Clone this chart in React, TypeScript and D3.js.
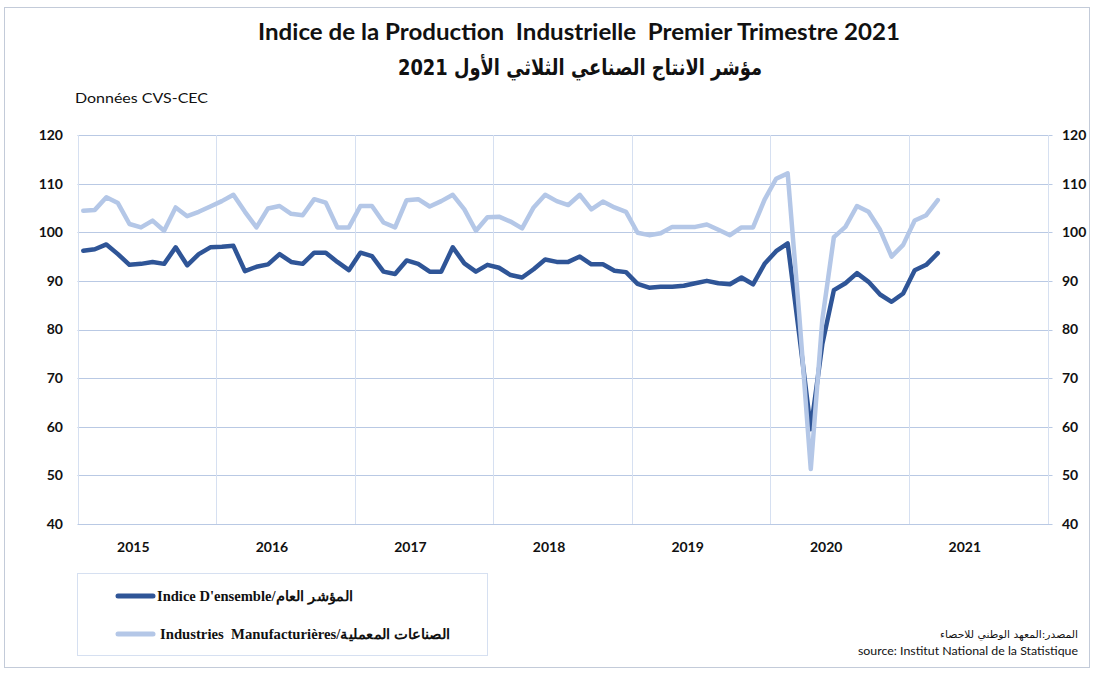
import * as d3 from 'd3';

// Données CVS-CEC, mensuelles, janvier 2015 - mars 2021
const years = ['2015', '2016', '2017', '2018', '2019', '2020', '2021'];
const yTicks = [40, 50, 60, 70, 80, 90, 100, 110, 120];

const indiceEnsemble = [
  96.2, 96.5, 97.5, 95.5, 93.3, 93.5, 93.9, 93.5, 96.9, 93.2, 95.5, 96.9,
  97.0, 97.2, 92.0, 92.9, 93.4, 95.5, 93.9, 93.5, 95.8, 95.8, 93.9, 92.2,
  95.8, 95.1, 91.9, 91.4, 94.2, 93.5, 91.9, 91.9, 96.9, 93.6, 91.9, 93.3,
  92.7, 91.2, 90.7, 92.4, 94.4, 93.9, 93.9, 95.0, 93.4, 93.4, 92.1, 91.8,
  89.4, 88.6, 88.8, 88.8, 89.0, 89.5, 90.0, 89.5, 89.3, 90.7, 89.3, 93.5,
  96.1, 97.7, 79.0, 59.5, 77.0, 88.1, 89.5, 91.6, 89.8, 87.2, 85.7, 87.4,
  92.2, 93.3, 95.7,
];

const industriesManuf = [
  104.4, 104.6, 107.2, 106.0, 101.7, 101.0, 102.4, 100.3, 105.1, 103.3, 104.2, 105.3,
  106.4, 107.7, 104.2, 101.0, 104.9, 105.4, 103.8, 103.5, 106.8, 106.1, 101.0, 101.0,
  105.4, 105.4, 102.0, 101.0, 106.6, 106.8, 105.3, 106.4, 107.7, 104.7, 100.3, 103.1,
  103.2, 102.2, 100.8, 105.1, 107.7, 106.4, 105.6, 107.7, 104.7, 106.3, 105.1, 104.2,
  99.9, 99.4, 99.8, 101.1, 101.1, 101.1, 101.6, 100.5, 99.4, 101.0, 101.0, 106.7,
  111.0, 112.1, 83.0, 51.3, 82.0, 99.0, 101.1, 105.4, 104.2, 100.5, 95.0, 97.4,
  102.4, 103.5, 106.6,
];

const series = [
  { name: "Indice D'ensemble/المؤشر العام", values: indiceEnsemble, color: '#2F5597' },
  { name: 'Industries  Manufacturières/الصناعات المعملية', values: industriesManuf, color: '#B4C7E7' },
];

const W = 1103;
const H = 680;
const plot = { left: 77.5, right: 1047.5, top: 135, bottom: 524 };

export default function App() {
  // une bande par mois, 12 par année
  const months = years.flatMap(y => d3.range(12).map(m => `${y}-${m + 1}`));
  const x = d3.scaleBand().domain(months).range([plot.left, plot.right]).padding(0);
  const y = d3.scaleLinear().domain([40, 120]).range([plot.bottom, plot.top]);
  const bw = x.bandwidth();

  const line = d3.line<number>()
    .x((_, i) => (x(months[i]) as number) + bw / 2)
    .y(d => y(d));

  const tickFont = 'Lato, "Open Sans", sans-serif';
  const legendWidths = [196, 290];

  return (
    <svg width={W} height={H} style={{ position: 'absolute', left: 0, top: 0, background: '#fff' }}>
      <rect x={4.5} y={7.5} width={1085} height={660} fill="#fff" stroke="#C3CBD9" />

      <text x={579} y={40} textAnchor="middle" fontFamily={tickFont} fontWeight="bold" fontSize={22}
        fill="#111" textLength={642} lengthAdjust="spacingAndGlyphs" style={{ whiteSpace: 'pre' }}>
        Indice de la Production  Industrielle  Premier Trimestre 2021
      </text>
      <text x={580} y={75} textAnchor="middle" fontFamily='"DejaVu Sans", sans-serif' fontWeight="bold"
        fontSize={22} fill="#111" textLength={364} lengthAdjust="spacingAndGlyphs">
        مؤشر الانتاج الصناعي الثلاثي الأول 2021
      </text>
      <text x={75} y={103} fontFamily={tickFont} fontSize={14} fill="#111" textLength={133} lengthAdjust="spacingAndGlyphs">
        Données CVS-CEC
      </text>

      {/* grille horizontale */}
      {yTicks.map(t => (
        <line key={'h' + t} x1={plot.left} x2={plot.right + 5} y1={Math.round(y(t)) + 0.5} y2={Math.round(y(t)) + 0.5}
          stroke="#B9C9E4" strokeWidth={1} />
      ))}
      {/* grille verticale aux limites d'années */}
      {d3.range(years.length + 1).map(k => {
        const xx = k < years.length ? (x(months[k * 12]) as number) : plot.right;
        return (
          <line key={'v' + k} x1={Math.round(xx) + 0.5} x2={Math.round(xx) + 0.5} y1={plot.top} y2={plot.bottom}
            stroke="#D6E0F1" strokeWidth={1} />
        );
      })}

      {yTicks.map(t => (
        <g key={'l' + t} fontFamily={tickFont} fontWeight="bold" fontSize={14} fill="#111">
          <text x={63} y={y(t)} dy="0.35em" textAnchor="end">{t}</text>
          <text x={1062} y={y(t)} dy="0.35em" textAnchor="start">{t}</text>
        </g>
      ))}

      {years.map((yr, k) => (
        <text key={yr} x={(x(months[k * 12]) as number) + 12 * bw * 0.403} y={552} textAnchor="middle"
          fontFamily={tickFont} fontWeight="bold" fontSize={14} fill="#111">
          {yr}
        </text>
      ))}

      {series.map(s => (
        <path key={s.name} d={line(s.values) || ''} fill="none" stroke={s.color} strokeWidth={4.5}
          strokeLinejoin="round" strokeLinecap="round" />
      ))}

      {/* légende */}
      <rect x={77.5} y={573.5} width={410} height={82} fill="#fff" stroke="#D6E0F1" />
      {series.map((s, i) => (
        <g key={'lg' + i} transform={`translate(0,${596 + i * 38})`}>
          <line x1={118} x2={153} y1={0} y2={0} stroke={s.color} strokeWidth={5} strokeLinecap="round" />
          <text x={i === 0 ? 157 : 160} y={0} dy="0.35em" fontFamily='"Liberation Serif", "Times New Roman", serif'
            fontWeight="bold" fontSize={14} fill="#111" style={{ whiteSpace: 'pre' }}
            textLength={legendWidths[i]} lengthAdjust="spacingAndGlyphs">
            {s.name}
          </text>
        </g>
      ))}

      <text x={1078} y={638} textAnchor="end" fontFamily='"DejaVu Sans", sans-serif' fontSize={10} fill="#111"
        textLength={138} lengthAdjust="spacingAndGlyphs">
        المصدر:المعهد الوطني للاحصاء
      </text>
      <text x={1078} y={655} textAnchor="end" fontFamily={tickFont} fontSize={12} fill="#111"
        textLength={220} lengthAdjust="spacingAndGlyphs">
        source: Institut National de la Statistique
      </text>
    </svg>
  );
}
